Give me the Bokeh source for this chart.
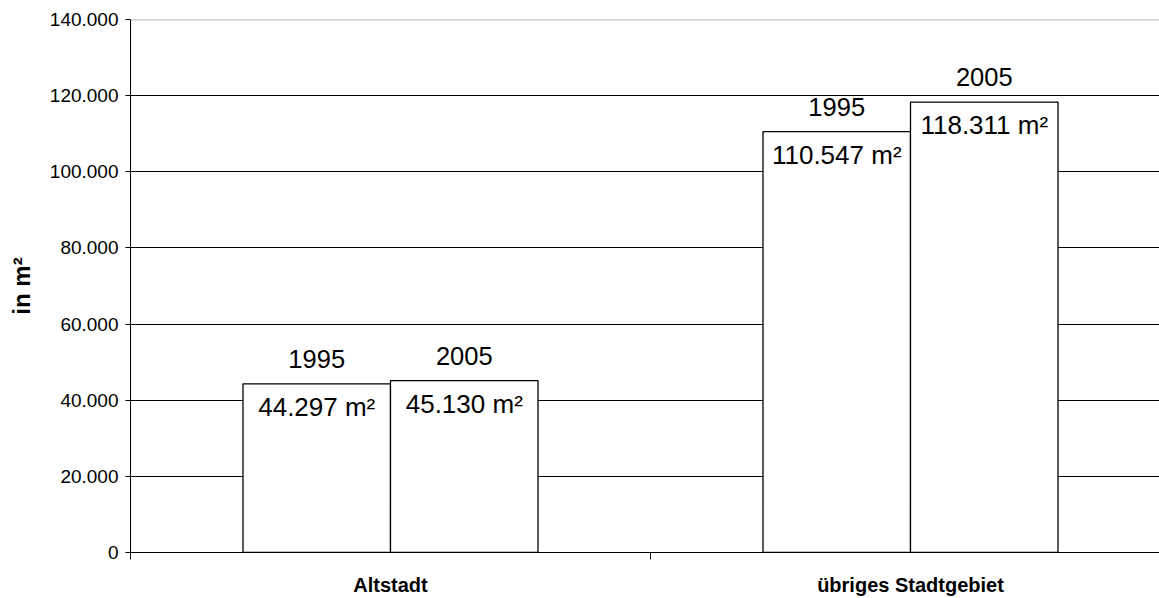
from bokeh.plotting import figure
from bokeh.models import Range1d, FixedTicker, CustomJSTickFormatter, Span, ColumnDataSource
from bokeh.core.properties import value
from bokeh.embed import file_html
from bokeh.resources import INLINE

categories = ["Altstadt", "übriges Stadtgebiet"]
years = ["1995", "2005"]
values_1995 = [44297, 110547]
values_2005 = [45130, 118311]
y_ticks = [0, 20000, 40000, 60000, 80000, 100000, 120000, 140000]

FONT = "Liberation Sans"
BAR_W = 0.2837

p = figure(width=1159, height=598, output_backend="svg", toolbar_location=None,
           x_range=Range1d(0, 1029 / 520), y_range=Range1d(0, 140000),
           min_border_left=130, min_border_right=0, min_border_top=19, min_border_bottom=46)
p.outline_line_color = None
p.background_fill_color = "white"

xs, tops, labels, yrs = [], [], [], []
for i, cat in enumerate(categories):
    for j, (yr, vals) in enumerate(zip(years, [values_1995, values_2005])):
        xs.append(i + 0.5 + (j - 0.5) * BAR_W)
        tops.append(vals[i])
        labels.append(f"{vals[i]:,}".replace(",", ".") + " m²")
        yrs.append(yr)

src = ColumnDataSource(dict(x=xs, top=tops, label=labels, year=yrs))

p.vbar(x="x", top="top", width=BAR_W, bottom=0, source=src,
       fill_color="white", line_color="black", line_width=1.3)

p.text(x="x", y="top", text="label", source=src, text_font=value(FONT),
       text_font_size="26px", text_align="center", text_baseline="middle",
       y_offset=23, text_color="black")
p.text(x="x", y="top", text="year", source=src, text_font=value(FONT),
       text_font_size="25.5px", text_align="center", text_baseline="middle",
       y_offset=-25, text_color="black")

# grid
p.xgrid.visible = False
p.ygrid.ticker = FixedTicker(ticks=y_ticks[1:-1])
p.ygrid.grid_line_color = "black"
p.ygrid.grid_line_width = 1
p.add_layout(Span(location=y_ticks[-1], dimension="width", line_color="#a0a0a0", line_width=1.5))

# y axis
p.yaxis.ticker = FixedTicker(ticks=y_ticks)
p.yaxis.formatter = CustomJSTickFormatter(code="""
    return Math.round(tick).toString().replace(/\\B(?=(\\d{3})+(?!\\d))/g, '.');
""")
p.yaxis.major_tick_out = 5
p.yaxis.major_tick_in = 0
p.yaxis.minor_tick_out = 0
p.yaxis.minor_tick_in = 0
p.yaxis.major_label_standoff = 7
p.yaxis.major_label_text_font = FONT
p.yaxis.major_label_text_font_size = "19px"
p.yaxis.major_label_text_color = "black"
p.yaxis.axis_line_color = "black"
p.yaxis.major_tick_line_color = "black"
p.yaxis.axis_label = "in m²"
p.yaxis.axis_label_text_font = FONT
p.yaxis.axis_label_text_font_style = "bold"
p.yaxis.axis_label_text_font_size = "24px"
p.yaxis.axis_label_text_color = "black"
p.yaxis.axis_label_standoff = 12

# x axis
p.xaxis.ticker = FixedTicker(ticks=[i + 0.5 for i in range(len(categories))],
                             minor_ticks=list(range(len(categories) + 1)))
p.xaxis.major_label_overrides = {i + 0.5: c for i, c in enumerate(categories)}
p.xaxis.major_tick_out = 0
p.xaxis.major_tick_in = 0
p.xaxis.minor_tick_out = 7
p.xaxis.minor_tick_in = 0
p.xaxis.minor_tick_line_color = "black"
p.xaxis.axis_line_color = "black"
p.xaxis.major_label_standoff = 14
p.xaxis.major_label_text_font = FONT
p.xaxis.major_label_text_font_style = "bold"
p.xaxis.major_label_text_font_size = "20px"
p.xaxis.major_label_text_color = "black"

open("out.html", "w").write(file_html(p, INLINE))
